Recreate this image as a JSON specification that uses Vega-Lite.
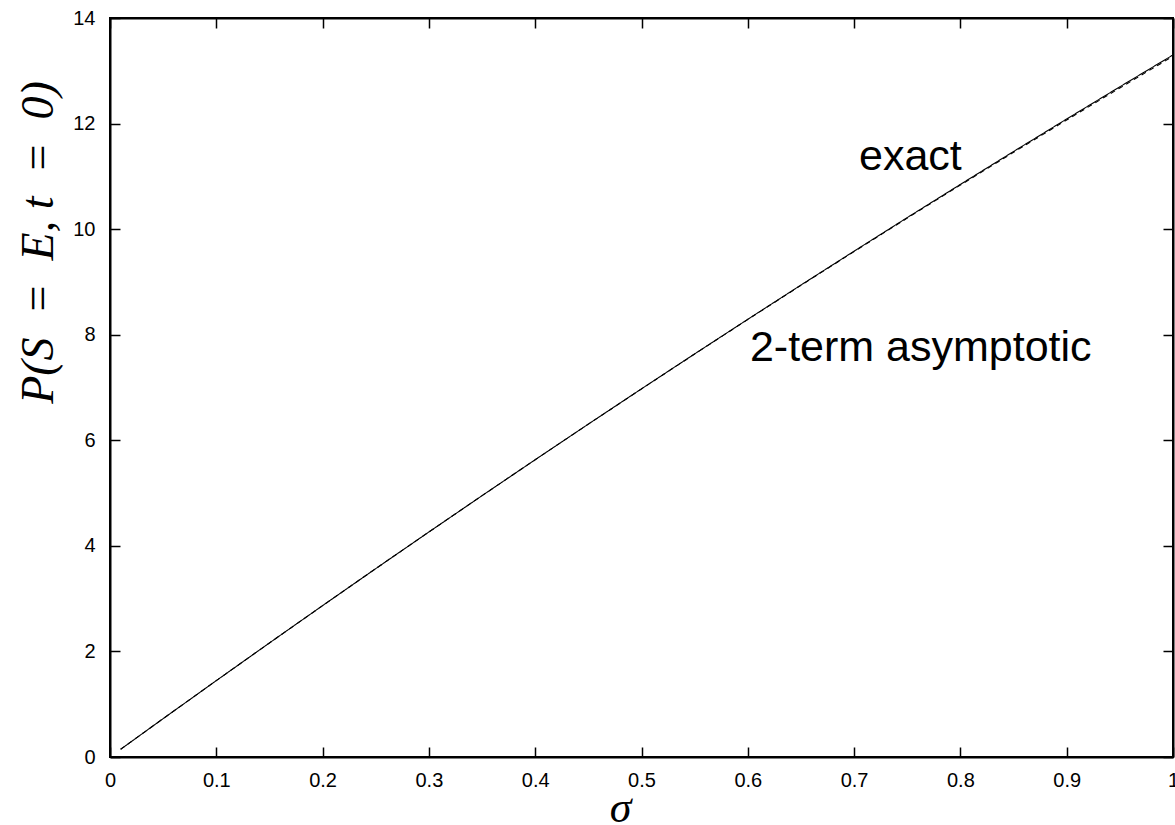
{
  "$schema": "https://vega.github.io/schema/vega-lite/v6.json",
  "autosize": "none",
  "width": 1063,
  "height": 739,
  "padding": {"left": 110, "top": 18, "right": 2, "bottom": 68},
  "background": "white",
  "datasets": {
    "curve": [
      {"sigma": 0.01, "P": 0.146, "series": "exact"},
      {"sigma": 0.05, "P": 0.727, "series": "exact"},
      {"sigma": 0.1, "P": 1.447, "series": "exact"},
      {"sigma": 0.15, "P": 2.161, "series": "exact"},
      {"sigma": 0.2, "P": 2.868, "series": "exact"},
      {"sigma": 0.25, "P": 3.569, "series": "exact"},
      {"sigma": 0.3, "P": 4.263, "series": "exact"},
      {"sigma": 0.35, "P": 4.951, "series": "exact"},
      {"sigma": 0.4, "P": 5.632, "series": "exact"},
      {"sigma": 0.45, "P": 6.307, "series": "exact"},
      {"sigma": 0.5, "P": 6.975, "series": "exact"},
      {"sigma": 0.55, "P": 7.637, "series": "exact"},
      {"sigma": 0.6, "P": 8.292, "series": "exact"},
      {"sigma": 0.65, "P": 8.941, "series": "exact"},
      {"sigma": 0.7, "P": 9.583, "series": "exact"},
      {"sigma": 0.75, "P": 10.219, "series": "exact"},
      {"sigma": 0.8, "P": 10.848, "series": "exact"},
      {"sigma": 0.85, "P": 11.471, "series": "exact"},
      {"sigma": 0.9, "P": 12.087, "series": "exact"},
      {"sigma": 0.95, "P": 12.697, "series": "exact"},
      {"sigma": 1.0, "P": 13.3, "series": "exact"},
      {"sigma": 0.01, "P": 0.146, "series": "2-term asymptotic"},
      {"sigma": 0.05, "P": 0.727, "series": "2-term asymptotic"},
      {"sigma": 0.1, "P": 1.447, "series": "2-term asymptotic"},
      {"sigma": 0.15, "P": 2.161, "series": "2-term asymptotic"},
      {"sigma": 0.2, "P": 2.868, "series": "2-term asymptotic"},
      {"sigma": 0.25, "P": 3.569, "series": "2-term asymptotic"},
      {"sigma": 0.3, "P": 4.263, "series": "2-term asymptotic"},
      {"sigma": 0.35, "P": 4.951, "series": "2-term asymptotic"},
      {"sigma": 0.4, "P": 5.632, "series": "2-term asymptotic"},
      {"sigma": 0.45, "P": 6.306, "series": "2-term asymptotic"},
      {"sigma": 0.5, "P": 6.973, "series": "2-term asymptotic"},
      {"sigma": 0.55, "P": 7.634, "series": "2-term asymptotic"},
      {"sigma": 0.6, "P": 8.288, "series": "2-term asymptotic"},
      {"sigma": 0.65, "P": 8.935, "series": "2-term asymptotic"},
      {"sigma": 0.7, "P": 9.575, "series": "2-term asymptotic"},
      {"sigma": 0.75, "P": 10.209, "series": "2-term asymptotic"},
      {"sigma": 0.8, "P": 10.835, "series": "2-term asymptotic"},
      {"sigma": 0.85, "P": 11.455, "series": "2-term asymptotic"},
      {"sigma": 0.9, "P": 12.068, "series": "2-term asymptotic"},
      {"sigma": 0.95, "P": 12.675, "series": "2-term asymptotic"},
      {"sigma": 1.0, "P": 13.275, "series": "2-term asymptotic"}
    ],
    "labels": [
      {"sigma": 0.7046, "P": 11.12, "label": "exact"},
      {"sigma": 0.602, "P": 7.5, "label": "2-term asymptotic"}
    ]
  },
  "config": {
    "view": {"stroke": "black", "strokeWidth": 2},
    "axis": {
      "grid": false,
      "domainColor": "black",
      "domainWidth": 2,
      "tickColor": "black",
      "tickWidth": 1.5,
      "tickSize": -10,
      "labelFont": "Liberation Sans",
      "labelFontSize": 20,
      "labelColor": "black",
      "titleColor": "black",
      "titleFont": "Liberation Serif",
      "titleFontStyle": "italic",
      "titleFontWeight": "normal"
    }
  },
  "layer": [
    {
      "data": {"name": "curve"},
      "mark": {"type": "line", "color": "black", "strokeWidth": 1.1},
      "encoding": {
        "x": {
          "field": "sigma", "type": "quantitative",
          "scale": {"domain": [0, 1], "nice": false, "zero": false},
          "axis": {
            "orient": "bottom",
            "values": [0, 0.1, 0.2, 0.3, 0.4, 0.5, 0.6, 0.7, 0.8, 0.9, 1],
            "format": "~g",
            "labelPadding": 23,
            "labelFlush": false,
            "labelOverlap": false,
            "title": "σ",
            "titleFontSize": 44,
            "titleX": 510,
            "titleY": 64,
            "titleBaseline": "alphabetic",
            "titleAlign": "center"
          }
        },
        "y": {
          "field": "P", "type": "quantitative",
          "scale": {"domain": [0, 14], "nice": false},
          "axis": {
            "orient": "left",
            "values": [0, 2, 4, 6, 8, 10, 12, 14],
            "labelPadding": 25,
            "labelFlush": false,
            "labelOverlap": false,
            "title": "P(S\u2002=\u2002E, t\u2002=\u20020)",
            "titleFontSize": 46,
            "titleAngle": 270,
            "titleX": -58,
            "titleY": 224,
            "titleBaseline": "alphabetic",
            "titleAlign": "center"
          }
        },
        "strokeDash": {
          "field": "series", "type": "nominal",
          "scale": {"domain": ["exact", "2-term asymptotic"], "range": [[1, 0], [5, 4]]},
          "legend": null
        }
      }
    },
    {
      "data": {"name": "labels"},
      "mark": {"type": "text", "align": "left", "baseline": "alphabetic", "font": "Liberation Sans", "fontSize": 43, "color": "black"},
      "encoding": {
        "x": {"field": "sigma", "type": "quantitative", "axis": null},
        "y": {"field": "P", "type": "quantitative", "axis": null},
        "text": {"field": "label", "type": "nominal"}
      }
    },
    {
      "data": {"name": "curve"},
      "mark": {"type": "line", "opacity": 0},
      "encoding": {
        "x": {
          "field": "sigma", "type": "quantitative",
          "axis": {"orient": "top", "values": [0, 0.1, 0.2, 0.3, 0.4, 0.5, 0.6, 0.7, 0.8, 0.9, 1], "labels": false, "title": null}
        },
        "y": {
          "field": "P", "type": "quantitative",
          "axis": {"orient": "right", "values": [0, 2, 4, 6, 8, 10, 12, 14], "labels": false, "title": null}
        }
      }
    }
  ],
  "resolve": {"axis": {"x": "independent", "y": "independent"}}
}
